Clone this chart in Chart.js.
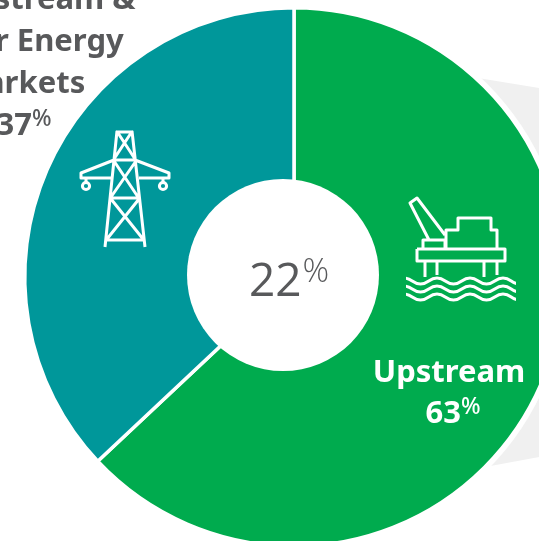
<!DOCTYPE html>
<html><head><meta charset="utf-8">
<script src="https://cdn.jsdelivr.net/npm/chart.js@4"></script>
<style>html,body{margin:0;padding:0;background:#fff;overflow:hidden;width:539px;height:541px}
#w{position:absolute;left:0;top:-17px}</style></head>
<body><div id="w"><canvas id="c" width="588" height="588"></canvas></div>
<script>
const categories=["Upstream","Downstream & Other Energy Markets"];
const shares=[63,37];
const colours=["#00ab4e","#00979a"];
const centreValue="22";
const upstreamLabel=["Upstream"];const upstreamValue="63";
const marketLabel=["Downstream &","Other Energy","Markets"];const marketValue="37";
const FONT='"Noto Sans"';const GREY='#58595b';
function sup(ctx,num,cx,y,font,supFont,color,supRise,gap){
  ctx.fillStyle=color;ctx.textAlign='left';ctx.textBaseline='alphabetic';
  ctx.font=font;const a=ctx.measureText(num).width;
  ctx.font=supFont;const b=ctx.measureText('%').width;
  const x=cx-(a+b+gap)/2;
  ctx.font=font;ctx.fillText(num,x,y);
  ctx.font=supFont;ctx.fillText('%',x+a+gap,y-supRise);
}
function lines(ctx,pts){ctx.beginPath();pts.forEach(p=>{ctx.moveTo(p[0][0],p[0][1]);p.slice(1).forEach(q=>ctx.lineTo(q[0],q[1]));});ctx.stroke();}
function tower(ctx){
  lines(ctx,[
   [[117,131],[105,247]],[[132,131],[145,247]],[[116,132],[133,132]],
   [[114,160],[136,160]],[[110,198],[139,198]],[[106,240],[144,240]],
   [[118,133],[135,159]],[[131,133],[114,159]],
   [[114,161],[138,197]],[[136,161],[111,197]],
   [[111,199],[143,239]],[[139,199],[107,239]],
   [[114,160],[81,173],[81,178],[111,178]],[[135,160],[169,173],[169,178],[139,178]],
   [[86,178],[86,182]],[[163,178],[163,182]]]);
  [86,163].forEach(x=>{ctx.beginPath();ctx.arc(x,186,3.6,0,Math.PI*2);ctx.stroke();});
}
function rig(ctx){
  lines(ctx,[
   [[429,240],[410,203],[417,198],[445,235]],
   [[423,249],[423,240],[445,240],[445,249]],
   [[446,249],[446,230],[458,230],[458,218],[491,218],[491,230],[497,230],[497,249]],
   [[417,249],[505,249],[505,261],[417,261],[417,249]],
   [[425,261],[425,277]],[[437,261],[437,275]],[[484,261],[484,277]],[[497,261],[497,275]]]);
  ctx.save();ctx.beginPath();ctx.rect(406,270,110,40);ctx.clip();
  [281,289,297].forEach(y=>{
    ctx.beginPath();ctx.moveTo(395.75,y);
    let x=395.75,up=true;
    while(x<520){const s=16.5;ctx.quadraticCurveTo(x+s/2,y+(up?-6:6),x+s,y);x+=s;up=!up;}
    ctx.stroke();});
  ctx.restore();
}
const art={id:'art',
 beforeDatasetsDraw(chart){
  const ctx=chart.ctx,m=chart.getDatasetMeta(0).data[0];
  const cx=m.x,cy=m.y,r=m.outerRadius;
  ctx.save();
  ctx.fillStyle='#f0f0f0';ctx.beginPath();
  ctx.moveTo(cx+184,cy-199);ctx.lineTo(cx+300,cy-180);ctx.lineTo(cx+300,cy+170);ctx.lineTo(cx+191,cy+190);ctx.closePath();ctx.fill();
  ctx.fillStyle='#fff';ctx.beginPath();ctx.arc(cx,cy,r+4,0,Math.PI*2);ctx.fill();
  ctx.restore();
 },
 afterDatasetsDraw(chart){
  const ctx=chart.ctx,m=chart.getDatasetMeta(0).data[0];
  const cx=m.x,cy=m.y;
  ctx.save();
  ctx.fillStyle='#fff';ctx.beginPath();ctx.arc(cx-11,cy-2,96,0,Math.PI*2);ctx.fill();
  ctx.translate(0,17);
  ctx.strokeStyle='#fff';ctx.lineWidth=3;ctx.lineJoin='round';ctx.lineCap='butt';
  tower(ctx);rig(ctx);
  sup(ctx,centreValue,289,296,'400 46px "Open Sans"','300 33px "Open Sans"',GREY,14,1);
  const bold='700 31px '+FONT;
  ctx.fillStyle='#fff';ctx.textAlign='center';ctx.font=bold;
  ctx.fillText(upstreamLabel[0],449,382);
  sup(ctx,upstreamValue,453,423,bold,'500 23px '+FONT,'#fff',9,0);
  ctx.fillStyle=GREY;ctx.textAlign='center';ctx.font=bold;
  marketLabel.forEach((t,i)=>ctx.fillText(t,21,9+i*42));
  sup(ctx,marketValue,24,135,bold,'500 23px '+FONT,GREY,9,0);
  ctx.restore();
 }};
new Chart(document.getElementById('c'),{type:'pie',plugins:[art],
 data:{labels:categories,datasets:[{data:shares,backgroundColor:colours,borderColor:'#fff',borderWidth:3.5}]},
 options:{responsive:false,animation:false,layout:{padding:23},
  plugins:{legend:{display:false},tooltip:{enabled:false}}}});
</script></body></html>
